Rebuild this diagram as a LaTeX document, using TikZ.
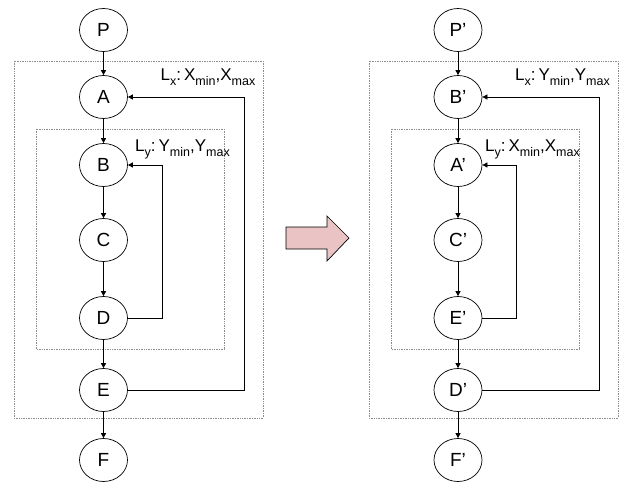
\documentclass[tikz,border=0pt]{standalone}
\usepackage{fontspec}
\setmainfont{Liberation Sans}
\usetikzlibrary{shapes.geometric,arrows.meta}
\newcommand{\sbs}[1]{\raisebox{-5pt}{\fontsize{12.5}{13}\selectfont #1}}
\begin{document}
\begin{tikzpicture}[x=1pt,y=-1pt,
  bub/.style={draw,ellipse,line width=0.7pt,minimum width=48pt,minimum height=43pt,inner sep=0pt,font=\fontsize{19}{21}\selectfont},
  arr/.style={line width=0.7pt,-{Triangle[length=5pt,width=5pt]}},
  box/.style={draw=black!45,densely dotted,line width=0.7pt},
  lab/.style={anchor=base west,inner sep=0pt,font=\fontsize{17}{19}\selectfont}]
\useasboundingbox (0,0) rectangle (632,484);
% ---- left ----
\draw[box] (14,61) rectangle (263,418);
\draw[box] (36,129) rectangle (224,349);
\node[bub] (P) at (103.5,30) {P};
\node[bub] (A) at (103.5,97) {A};
\node[bub] (B) at (103.5,165) {B};
\node[bub] (C) at (103.5,240) {C};
\node[bub] (D) at (103.5,318) {D};
\node[bub] (E) at (103.5,390) {E};
\node[bub] (F) at (103.5,460) {F};
\node[lab] (lx) at (160.5,81) {L\sbs{x}:\hspace{3pt}X\sbs{min},X\sbs{max}};
\node[lab] (ly) at (135,151.5) {L\sbs{y}:\hspace{3pt}Y\sbs{min},Y\sbs{max}};
\draw[arr] (P) -- (A);
\draw[arr] (A) -- (B);
\draw[arr] (B) -- (C);
\draw[arr] (C) -- (D);
\draw[arr] (D) -- (E);
\draw[arr] (E) -- (F);
\coordinate (xo) at (244,0);
\coordinate (xi) at (162,0);
\draw[arr] (E.east) -- (E.east -| xo) |- (A.east);
\draw[arr] (D.east) -- (D.east -| xi) |- (B.east);
% ---- block arrow ----
\draw[fill={rgb,255:red,234;green,196;blue,196},line width=0.7pt]
  (286,227) -- (327,227) -- (327,216) -- (349,238) -- (327,261) -- (327,249) -- (286,249) -- cycle;
% ---- right ----
\draw[box] (369,61) rectangle (618,418);
\draw[box] (391,129) rectangle (579,349);
\node[bub] (P2) at (458,30) {P’};
\node[bub] (B2) at (458,97) {B’};
\node[bub] (A2) at (458,165) {A’};
\node[bub] (C2) at (458,240) {C’};
\node[bub] (E2) at (458,318) {E’};
\node[bub] (D2) at (458,390) {D’};
\node[bub] (F2) at (458,460) {F’};
\node[lab] (lx2) at (515,81) {L\sbs{x}:\hspace{3pt}Y\sbs{min},Y\sbs{max}};
\node[lab] (ly2) at (485,151.5) {L\sbs{y}:\hspace{3pt}X\sbs{min},X\sbs{max}};
\draw[arr] (P2) -- (B2);
\draw[arr] (B2) -- (A2);
\draw[arr] (A2) -- (C2);
\draw[arr] (C2) -- (E2);
\draw[arr] (E2) -- (D2);
\draw[arr] (D2) -- (F2);
\coordinate (xo2) at (599,0);
\coordinate (xi2) at (516,0);
\draw[arr] (D2.east) -- (D2.east -| xo2) |- (B2.east);
\draw[arr] (E2.east) -- (E2.east -| xi2) |- (A2.east);
\end{tikzpicture}
\end{document}
